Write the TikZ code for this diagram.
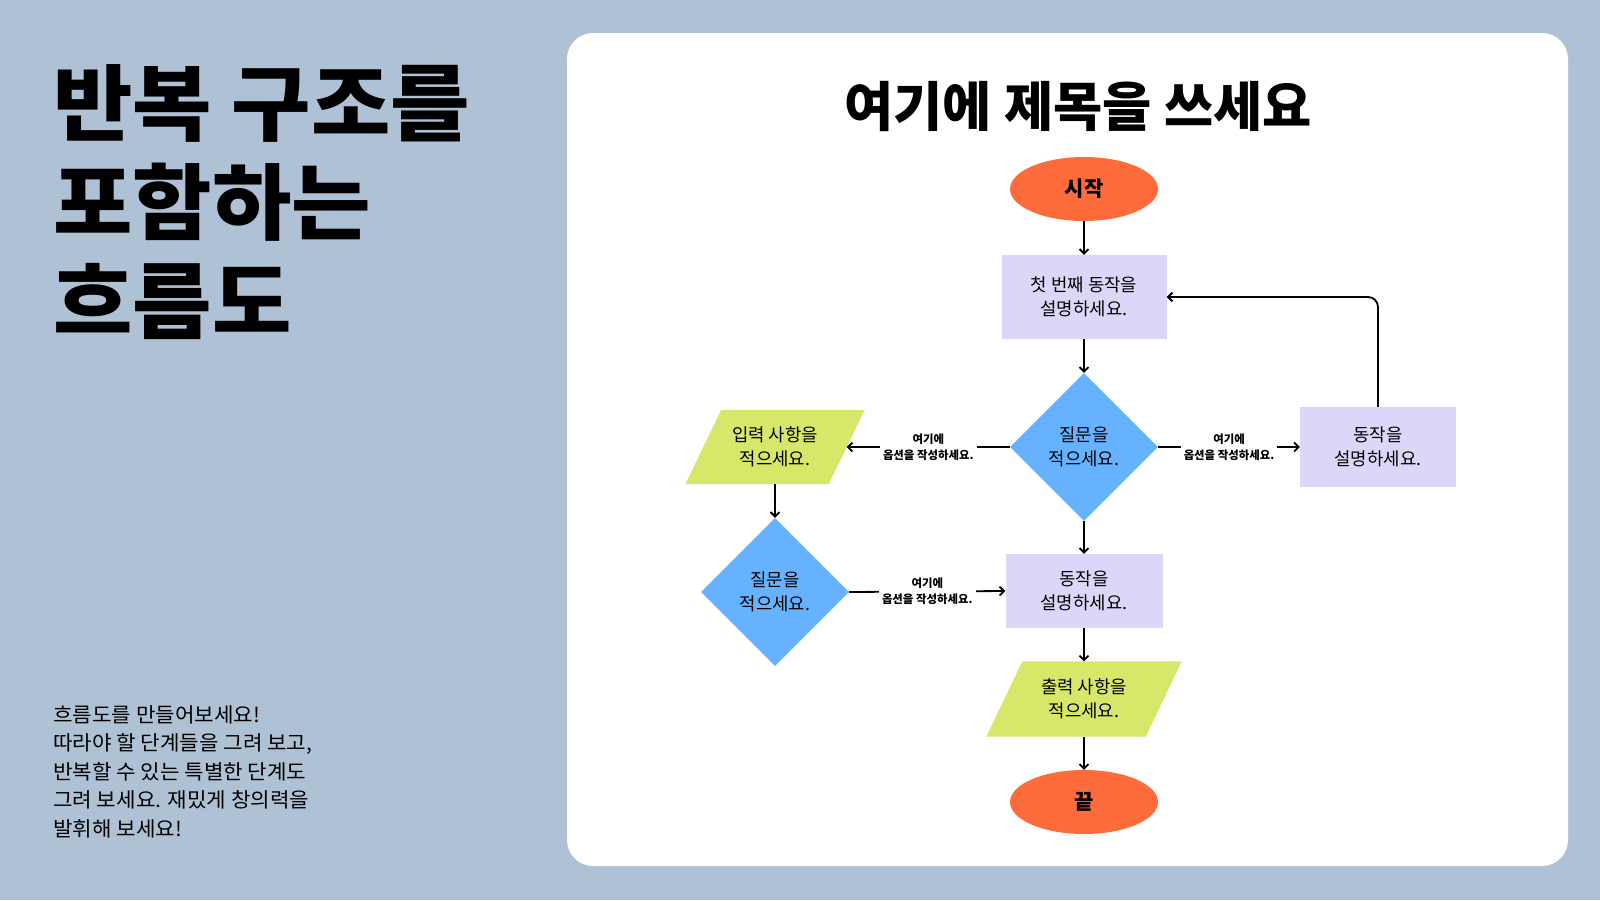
\documentclass[tikz,border=0pt]{standalone}
\usepackage{fontspec}
\setmainfont{Noto Sans CJK KR}
\newfontfamily\widekr[FakeStretch=1.04]{Noto Sans CJK KR}
\usetikzlibrary{shapes.geometric,arrows.meta,backgrounds}
\definecolor{bgblue}{HTML}{AFC1D5}
\definecolor{startorange}{HTML}{FF6C3C}
\definecolor{lav}{HTML}{DED6F8}
\definecolor{dblue}{HTML}{66B2FF}
\definecolor{yel}{HTML}{D6E76A}
\begin{document}
\begin{tikzpicture}[x=1pt,y=-1pt,
  term/.style={ellipse, fill=startorange, minimum width=148pt, minimum height=64pt, inner sep=0pt, font=\fontsize{21}{24}\selectfont\bfseries},
  actbox/.style={rectangle, fill=lav, inner sep=0pt, align=center, font=\fontsize{17.8}{24}\selectfont},
  ques/.style={diamond, fill=dblue, minimum width=148pt, minimum height=148pt, inner sep=0pt, align=center, font=\fontsize{17.8}{24}\selectfont},
  iobox/.style={rectangle, inner sep=0pt, minimum height=74pt, align=center, font=\fontsize{17.8}{24}\selectfont},
  arr/.style={line width=1.8pt, -{Straight Barb[length=4.5pt,width=9pt]}},
  optlabel/.style={fill=white, inner sep=3pt, align=center, font=\fontsize{11.4}{16}\selectfont\bfseries}
]
\useasboundingbox (0,0) rectangle (1600,900);
\begin{scope}[on background layer]
  \fill[bgblue] (0,0) rectangle (1600,900);
  \fill[white, rounded corners=26pt] (567,33) rectangle (1568,866);
\end{scope}

% left titles
\node[anchor=north west, inner sep=0pt, align=left, font=\widekr\fontsize{83}{99}\selectfont\bfseries] (maintitle) at (53,64) {반복 구조를\\포함하는\\흐름도};
\node[anchor=north west, inner sep=0pt, align=left, font=\widekr\fontsize{20.4}{28.6}\selectfont] (desc) at (53,705)
  {흐름도를 만들어보세요!\\따라야 할 단계들을 그려 보고,\\반복할 수 있는 특별한 단계도\\그려 보세요. 재밌게 창의력을\\발휘해 보세요!};

% panel title
\node[font=\fontsize{53.5}{60}\selectfont\bfseries, inner sep=0pt] (ptitle) at (1078,106) {여기에 제목을 쓰세요};

% flow nodes
\node[term] (start) at (1084,189) {시작};
\node[actbox, minimum width=165pt, minimum height=84pt] (act1) at (1084,297) {첫 번째 동작을\\설명하세요.};
\node[ques] (q1) at (1084,447) {질문을\\적으세요.};
\node[actbox, minimum width=156pt, minimum height=80pt] (act3) at (1378,447) {동작을\\설명하세요.};
\node[iobox, minimum width=143pt] (inp) at (775,447) {입력 사항을\\적으세요.};
\node[ques] (q2) at (775,592) {질문을\\적으세요.};
\node[actbox, minimum width=157pt, minimum height=74pt] (act2) at (1084,591) {동작을\\설명하세요.};
\node[iobox, minimum width=159pt, minimum height=75pt] (outp) at (1084,699) {출력 사항을\\적으세요.};
\node[term] (end) at (1084,802) {끝};

\begin{scope}[on background layer]
  \fill[yel] ([xshift=-18pt]inp.south west) -- ([xshift=18pt]inp.north west) -- ([xshift=18pt]inp.north east) -- ([xshift=-18pt]inp.south east) -- cycle;
  \fill[yel] ([xshift=-18pt]outp.south west) -- ([xshift=18pt]outp.north west) -- ([xshift=18pt]outp.north east) -- ([xshift=-18pt]outp.south east) -- cycle;
\end{scope}

% connectors
\draw[arr] (start) -- (act1);
\draw[arr] (act1) -- (q1);
\draw[arr] (q1.west) -- node[optlabel] (lab1) {여기에\\옵션을 작성하세요.} (inp.east);
\draw[arr] (q1.east) -- node[optlabel] (lab2) {여기에\\옵션을 작성하세요.} (act3.west);
\draw[arr, rounded corners=10pt] (act3.north) |- (act1.east);
\draw[arr] (inp) -- (q2);
\draw[arr] (q2.east) -- node[optlabel] (lab3) {여기에\\옵션을 작성하세요.} (act2.west);
\draw[arr] (q1) -- (act2);
\draw[arr] (act2) -- (outp);
\draw[arr] (outp) -- (end);
\end{tikzpicture}
\end{document}
